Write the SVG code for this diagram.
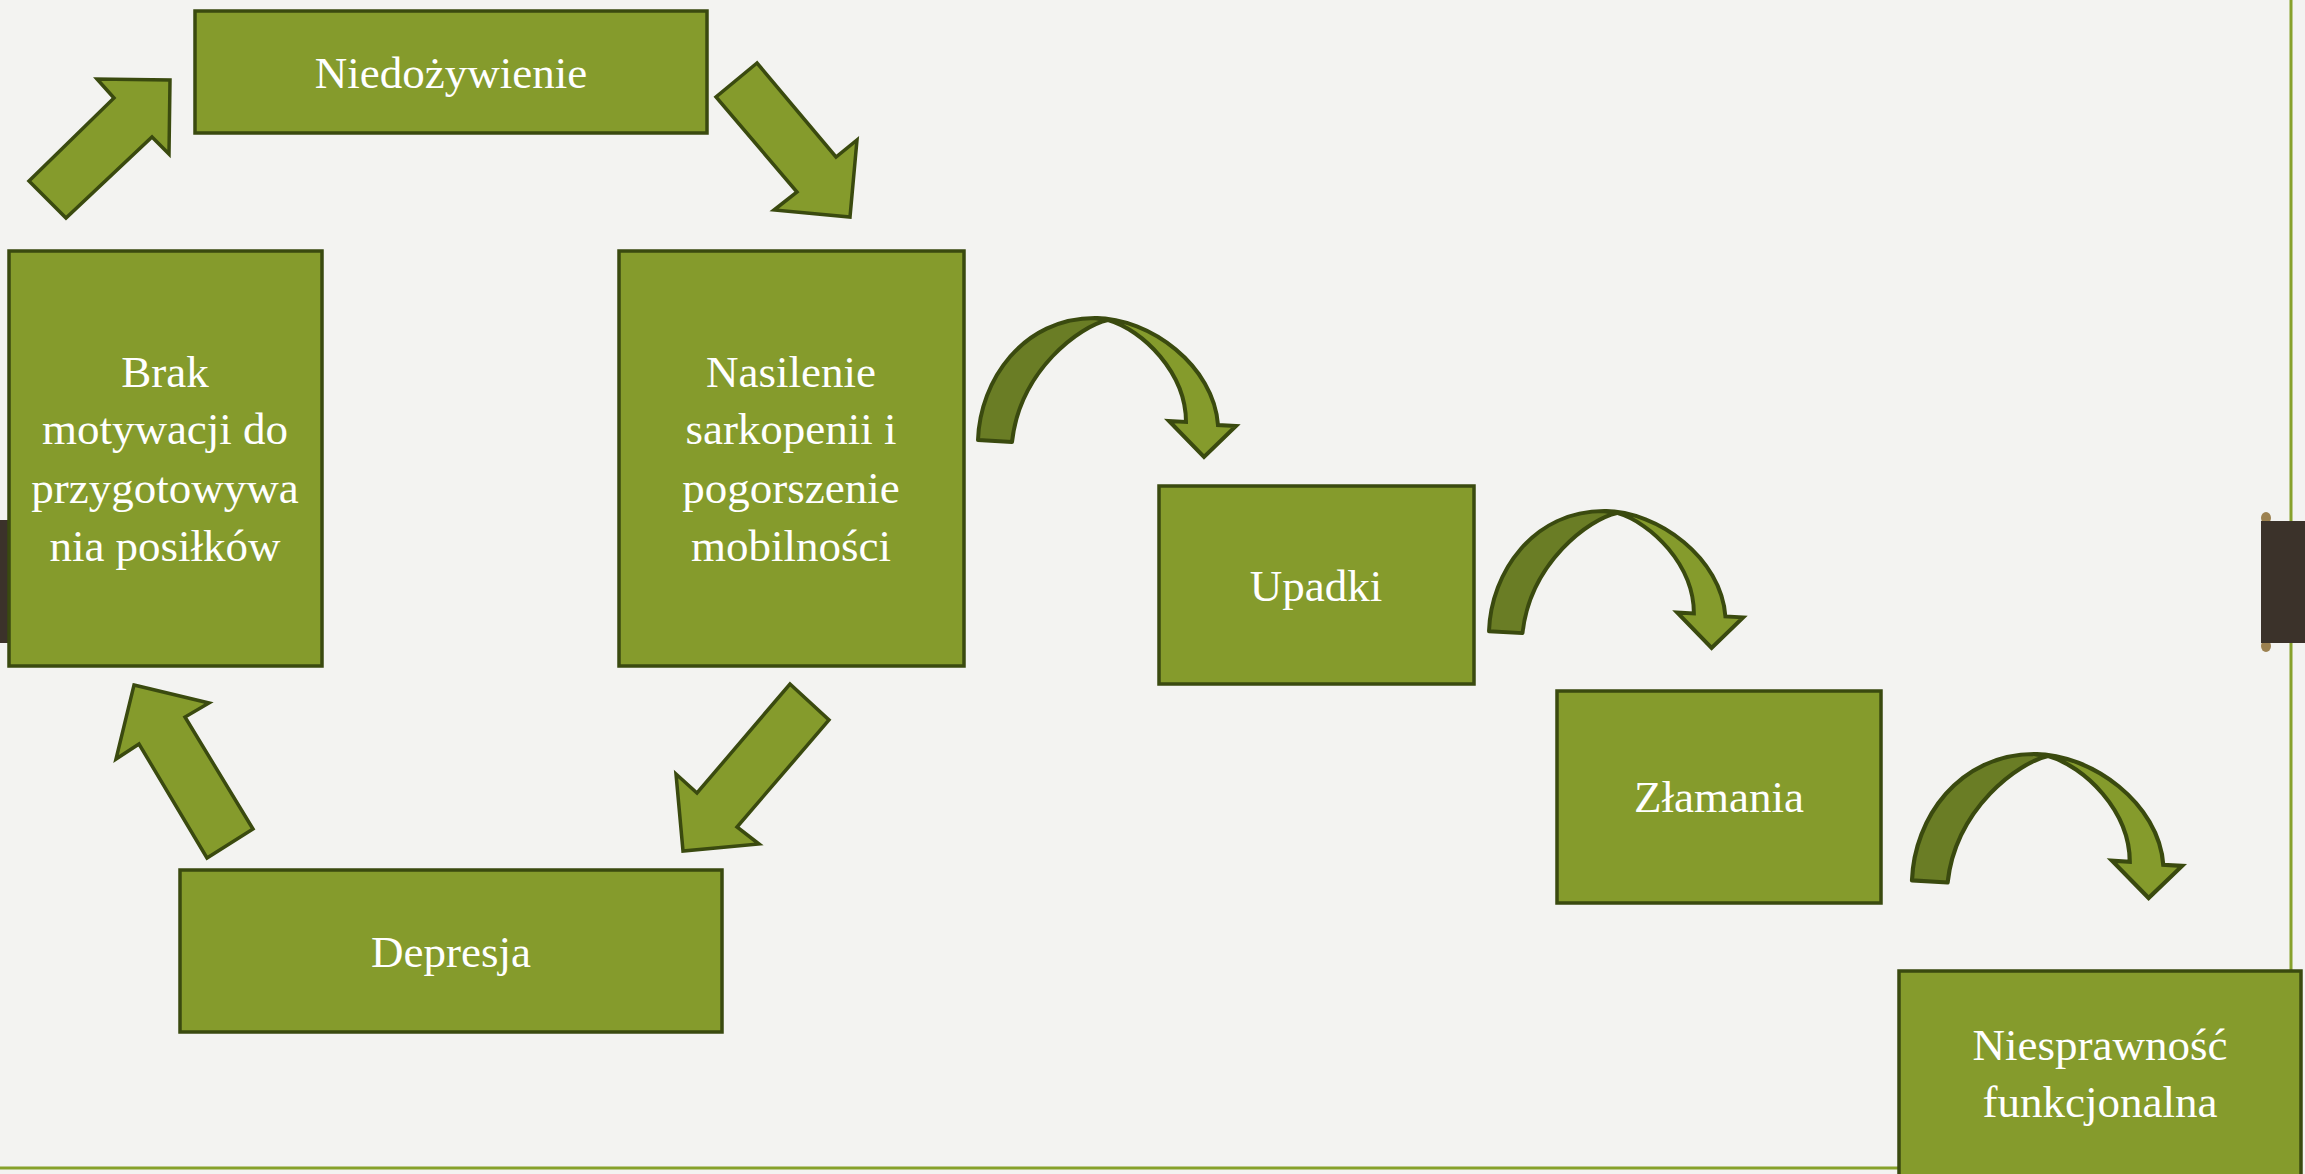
<svg xmlns="http://www.w3.org/2000/svg" width="2305" height="1174" viewBox="0 0 2305 1174">
<defs>
<style>
.box{fill:#859B2C;stroke:#3A4A0F;stroke-width:3.5}
.blk{fill:#859B2C;stroke:#3A4A0F;stroke-width:3.5;stroke-linejoin:miter}
.dark{fill:#6A7D25;stroke:#3A4A0F;stroke-width:4;stroke-linejoin:round}
.light{fill:#859B2C;stroke:#3A4A0F;stroke-width:4;stroke-linejoin:miter}
.t{font-family:"Liberation Serif","Times New Roman",serif;font-size:45px;fill:#FFFFFF;text-anchor:middle}
.frame{stroke:#86A12B;stroke-width:3;fill:none}
</style>
<g id="curved">
<path class="dark" d="M0,122 C2,62 45,0 117,0 L130,2 C102,8 42,52 34,124 Z"/>
<path class="light" d="M117,0 C172,0 236,48 240,107 L258,108 L226,139 L191,103 L208,104 C208,55 165,12 130,2 Z"/>
</g>
</defs>
<rect width="2305" height="1174" fill="#F3F3F1"/>
<g id="frame">
<line class="frame" x1="2291" y1="0" x2="2291" y2="972"/>
<line class="frame" x1="0" y1="1168" x2="1899" y2="1168"/>
<rect x="0" y="520" width="9" height="123" fill="#3B322A"/>
<ellipse cx="2266" cy="518" rx="5" ry="6" fill="#9C8150"/>
<ellipse cx="2266" cy="646" rx="5" ry="6" fill="#9C8150"/>
<rect x="2261" y="521" width="44" height="122" fill="#3B322A"/>
</g>
<g id="connectors">
<polygon class="blk" points="170,80 169,154 152,137 66,218 29,181 114,98 97,79"/>
<polygon class="blk" points="757,63 716,97 797,192 774,210 850,217 857,140 836,157"/>
<polygon class="blk" points="790,684 829,720 737,827 759,844 683,851 676,774 697,793"/>
<polygon class="blk" points="134,685 209,703 185,717 253,829 207,858 139,744 116,759"/>
<use id="curve1" href="#curved" transform="translate(978,318)"/>
<use id="curve2" href="#curved" transform="translate(1489,511) scale(0.985)"/>
<use id="curve3" href="#curved" transform="translate(1912,754) scale(1.047,1.036)"/>
</g>
<g id="node-niedozywienie">
<rect class="box" x="195" y="11" width="512" height="122"/>
<text class="t" x="451" y="88">Niedożywienie</text>
</g>
<g id="node-brak">
<rect class="box" x="9" y="251" width="313" height="415"/>
<text class="t" x="165" y="387">Brak</text>
<text class="t" x="165" y="444">motywacji do</text>
<text class="t" x="165" y="503">przygotowywa</text>
<text class="t" x="165" y="561">nia posiłków</text>
</g>
<g id="node-nasilenie">
<rect class="box" x="619" y="251" width="345" height="415"/>
<text class="t" x="791" y="387">Nasilenie</text>
<text class="t" x="791" y="444">sarkopenii i</text>
<text class="t" x="791" y="503">pogorszenie</text>
<text class="t" x="791" y="561">mobilności</text>
</g>
<g id="node-depresja">
<rect class="box" x="180" y="870" width="542" height="162"/>
<text class="t" x="451" y="967">Depresja</text>
</g>
<g id="node-upadki">
<rect class="box" x="1159" y="486" width="315" height="198"/>
<text class="t" x="1316" y="601">Upadki</text>
</g>
<g id="node-zlamania">
<rect class="box" x="1557" y="691" width="324" height="212"/>
<text class="t" x="1719" y="812">Złamania</text>
</g>
<g id="node-niesprawnosc">
<rect class="box" x="1899" y="971" width="402" height="215"/>
<text class="t" x="2100" y="1060">Niesprawność</text>
<text class="t" x="2100" y="1117">funkcjonalna</text>
</g>
</svg>
